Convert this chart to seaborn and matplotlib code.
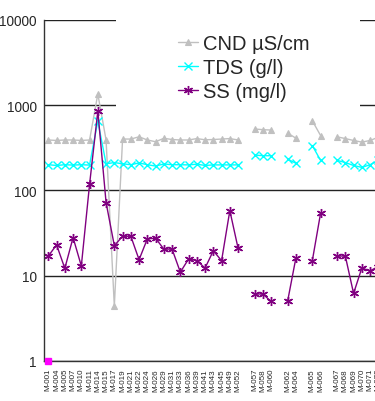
import numpy as np
import pandas as pd
import matplotlib
matplotlib.use('Agg')
import matplotlib.pyplot as plt
from matplotlib.patches import Rectangle
from matplotlib.lines import Line2D
import seaborn as sns

nan = np.nan

# site labels (blank = no sample)
site_nums = ['01', '04', '05', '07', '10', '11', '14', '15', '17', '19', '21', '22',
             '24', '26', '29', '31', '33', '36', '39', '41', '43', '45', '49', '52',
             '', '57', '58', '60', '', '62', '64', '', '65', '66', '',
             '67', '68', '69', '70', '71', '72']
sites = ['M-0' + s if s else '' for s in site_nums]

cnd = [390, 385, 390, 390, 385, 390, 1350, 390, 4.4, 400, 400, 425, 390, 372,
       408, 395, 390, 390, 405, 392, 395, 400, 405, 390,
       nan, 525, 515, 510, nan, 470, 410, nan, 655, 440, nan,
       425, 405, 385, 368, 385, 420]
tds = [200, 196, 200, 198, 200, 198, 650, 205, 212, 205, 200, 210, 200, 193,
       204, 200, 200, 199, 203, 196, 199, 199, 199, 199,
       nan, 260, 255, 255, nan, 233, 208, nan, 335, 225, nan,
       225, 212, 196, 186, 200, 225]
ss = [17, 23, 12.2, 28, 13, 118, 850, 72, 22.5, 29, 29, 15.4, 27, 27.5,
      20.5, 20.5, 11, 15.7, 15, 12.3, 19.6, 15, 58, 21,
      nan, 6.1, 6.1, 5, nan, 5, 16, nan, 15, 54, nan,
      17, 17, 6.2, 12.3, 11.4, 12.8]

series = ['CND µS/cm', 'TDS (g/l)', 'SS (mg/l)']
colors = ['#c0c0c0', '#00ffff', '#800080']

# long table, a new segment after each missing sample so lines break
rows = []
for name, vals in zip(series, [cnd, tds, ss]):
    seg = 0
    for i, v in enumerate(vals):
        if np.isnan(v):
            seg += 1
            continue
        rows.append({'series': name, 'x': i, 'val': v, 'seg': seg})
df = pd.DataFrame(rows)

sns.set_style('white')
plt.rcParams['font.family'] = ['Liberation Sans', 'DejaVu Sans']

W, H = 375, 402
fig = plt.figure(figsize=(W / 100, H / 100), dpi=100)
ax = fig.add_axes([44.2 / W, 40 / H, 338.25 / W, 341.2 / H])

styles = {
    'CND µS/cm': dict(marker='^', ms=5, mew=0.8),
    'TDS (g/l)': dict(marker='x', ms=5.5, mew=1),
    'SS (mg/l)': dict(marker=(6, 2, 0), ms=6.5, mew=1),
}
for name, c in zip(series, colors):
    sns.lineplot(data=df[df['series'] == name], x='x', y='val', units='seg',
                 estimator=None, color=c, mec=c, lw=1, ax=ax, legend=False,
                 **styles[name])

ax.plot([0], [1], 's', color='#ff00ff', ms=5, clip_on=False, zorder=5)

ax.set_yscale('log')
ax.set_ylim(1, 10000)
ax.set_xlim(-0.5, len(sites) - 0.5)
ax.set_yticks([1, 10, 100, 1000, 10000])
ax.set_yticklabels(['1', '10', '100', '1000', '10000'])
ax.yaxis.set_minor_locator(matplotlib.ticker.NullLocator())
ax.set_xticks(range(len(sites)))
ax.set_xticklabels(sites, rotation=90, fontsize=5.8)
ax.set_xticks(np.arange(-0.5, len(sites)), minor=True)
ax.tick_params(axis='x', which='major', length=0, pad=5)
ax.tick_params(axis='x', which='minor', length=4, width=1, color='#333333', direction='out')
ax.tick_params(axis='y', which='major', length=4, width=1, color='#333333',
               direction='out', labelsize=9.8, pad=1.5)
ax.set_xlabel('')
ax.set_ylabel('')

ax.yaxis.grid(True, which='major', color='#222222', lw=1)
ax.set_axisbelow(True)
for s in ['top', 'right']:
    ax.spines[s].set_visible(False)
for s in ['left', 'bottom']:
    ax.spines[s].set_color('#333333')
    ax.spines[s].set_linewidth(1)

# white legend background hides the gridlines behind it
ax.add_patch(Rectangle((116 / W, 1 - 110 / H), (360 - 116) / W, 90 / H,
                       transform=fig.transFigure, facecolor='white',
                       edgecolor='none', zorder=1))

handles = [Line2D([0], [0], color=c, lw=1, mec=c, **styles[n])
           for n, c in zip(series, colors)]
ax.legend(handles, series, loc='upper left', bbox_to_anchor=(178 / W, 1 - 35 / H),
          bbox_transform=fig.transFigure, frameon=False, fontsize=14.5,
          handlelength=1.0, handletextpad=0.25, labelspacing=0.25,
          borderpad=0, borderaxespad=0)

fig.savefig('out.png', dpi=100)
